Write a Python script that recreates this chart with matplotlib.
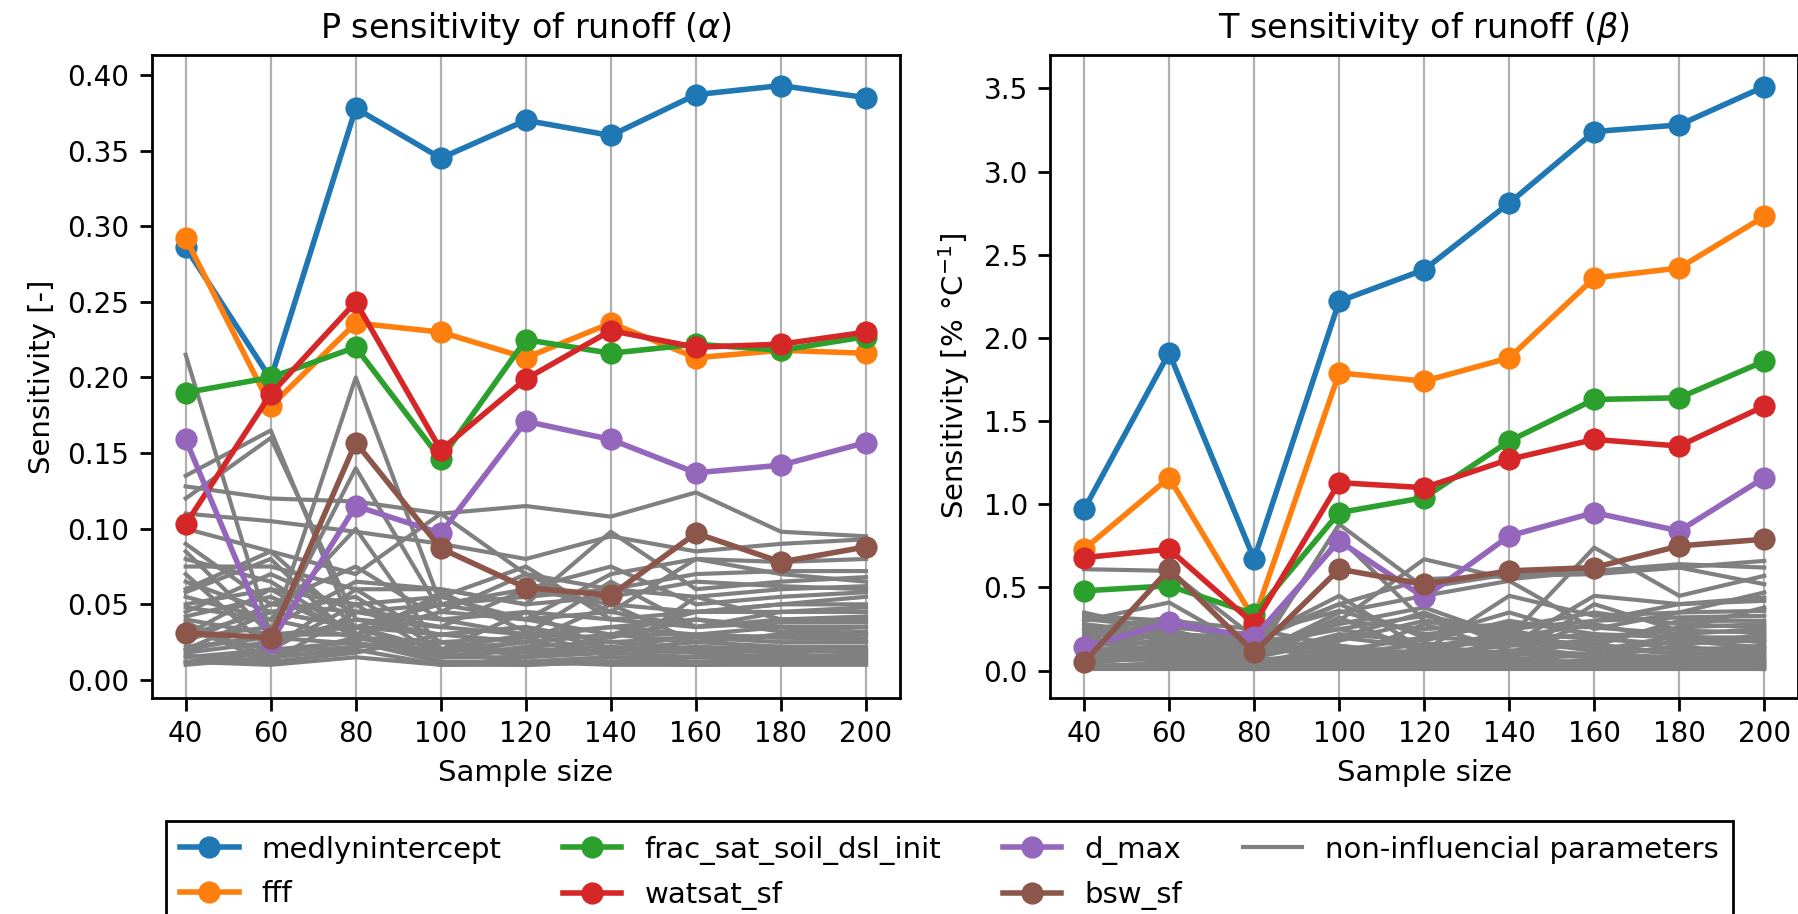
import numpy as np
import matplotlib
matplotlib.use('Agg')
import matplotlib.pyplot as plt

# sample sizes
samples = [40, 60, 80, 100, 120, 140, 160, 180, 200]

names = ['medlynintercept', 'fff', 'frac_sat_soil_dsl_init', 'watsat_sf', 'd_max', 'bsw_sf']
colors = ['tab:blue', 'tab:orange', 'tab:green', 'tab:red', 'tab:purple', 'tab:brown']

# P sensitivity (alpha), influential parameters
alpha_medlyn = [0.286, 0.199, 0.378, 0.345, 0.370, 0.360, 0.387, 0.393, 0.385]
alpha_fff = [0.292, 0.181, 0.236, 0.230, 0.213, 0.236, 0.213, 0.218, 0.216]
alpha_frac = [0.190, 0.200, 0.220, 0.146, 0.225, 0.216, 0.222, 0.218, 0.227]
alpha_watsat = [0.103, 0.189, 0.250, 0.152, 0.199, 0.231, 0.220, 0.222, 0.230]
alpha_dmax = [0.159, 0.025, 0.115, 0.097, 0.171, 0.159, 0.137, 0.142, 0.157]
alpha_bsw = [0.031, 0.028, 0.157, 0.087, 0.061, 0.056, 0.097, 0.078, 0.088]

# T sensitivity (beta), influential parameters
beta_medlyn = [0.97, 1.91, 0.67, 2.22, 2.41, 2.81, 3.24, 3.28, 3.51]
beta_fff = [0.73, 1.16, 0.31, 1.79, 1.74, 1.88, 2.36, 2.42, 2.73]
beta_frac = [0.48, 0.51, 0.34, 0.95, 1.04, 1.38, 1.63, 1.64, 1.86]
beta_watsat = [0.68, 0.73, 0.28, 1.13, 1.10, 1.27, 1.39, 1.35, 1.59]
beta_dmax = [0.14, 0.29, 0.20, 0.78, 0.44, 0.81, 0.95, 0.84, 1.16]
beta_bsw = [0.05, 0.61, 0.11, 0.61, 0.52, 0.60, 0.62, 0.75, 0.79]

# non-influencial parameters, P sensitivity
alpha_other = [
    [0.215, 0.030, 0.035, 0.020, 0.025, 0.020, 0.018, 0.020, 0.018],
    [0.135, 0.165, 0.030, 0.055, 0.040, 0.030, 0.030, 0.035, 0.030],
    [0.128, 0.120, 0.118, 0.110, 0.115, 0.108, 0.124, 0.098, 0.095],
    [0.040, 0.030, 0.200, 0.050, 0.060, 0.050, 0.045, 0.050, 0.055],
    [0.120, 0.160, 0.040, 0.030, 0.025, 0.030, 0.025, 0.030, 0.025],
    [0.085, 0.030, 0.140, 0.045, 0.070, 0.045, 0.080, 0.070, 0.065],
    [0.110, 0.105, 0.098, 0.090, 0.080, 0.095, 0.085, 0.090, 0.093],
    [0.060, 0.085, 0.070, 0.110, 0.070, 0.060, 0.055, 0.060, 0.062],
    [0.075, 0.075, 0.060, 0.060, 0.050, 0.098, 0.060, 0.065, 0.068],
    [0.050, 0.060, 0.050, 0.055, 0.075, 0.040, 0.045, 0.045, 0.048],
    [0.030, 0.045, 0.055, 0.020, 0.030, 0.065, 0.035, 0.040, 0.042],
    [0.020, 0.030, 0.030, 0.015, 0.020, 0.020, 0.030, 0.028, 0.030],
    [0.015, 0.020, 0.025, 0.012, 0.012, 0.015, 0.015, 0.015, 0.015],
    [0.010, 0.015, 0.020, 0.010, 0.010, 0.012, 0.012, 0.012, 0.012],
    [0.065, 0.045, 0.035, 0.030, 0.035, 0.025, 0.028, 0.025, 0.025],
    [0.045, 0.070, 0.045, 0.040, 0.030, 0.035, 0.040, 0.035, 0.035],
    [0.025, 0.050, 0.075, 0.040, 0.045, 0.020, 0.020, 0.022, 0.020],
    [0.035, 0.012, 0.045, 0.050, 0.055, 0.060, 0.070, 0.072, 0.072],
    [0.055, 0.040, 0.028, 0.025, 0.018, 0.018, 0.022, 0.020, 0.018],
    [0.018, 0.025, 0.040, 0.035, 0.060, 0.075, 0.050, 0.055, 0.058],
    [0.100, 0.085, 0.035, 0.015, 0.015, 0.018, 0.015, 0.016, 0.016],
    [0.070, 0.020, 0.050, 0.015, 0.022, 0.025, 0.020, 0.018, 0.020],
    [0.012, 0.018, 0.022, 0.025, 0.015, 0.030, 0.045, 0.050, 0.050],
    [0.080, 0.065, 0.030, 0.045, 0.040, 0.045, 0.035, 0.038, 0.038],
    [0.028, 0.035, 0.065, 0.060, 0.050, 0.055, 0.065, 0.062, 0.060],
    [0.042, 0.055, 0.030, 0.012, 0.010, 0.012, 0.010, 0.010, 0.010],
    [0.016, 0.012, 0.018, 0.030, 0.035, 0.020, 0.025, 0.030, 0.032],
    [0.032, 0.020, 0.060, 0.025, 0.028, 0.035, 0.030, 0.028, 0.027],
    [0.022, 0.028, 0.024, 0.020, 0.045, 0.040, 0.035, 0.045, 0.045],
    [0.090, 0.050, 0.045, 0.035, 0.030, 0.028, 0.040, 0.032, 0.035],
    [0.038, 0.015, 0.028, 0.018, 0.025, 0.050, 0.025, 0.022, 0.022],
    [0.012, 0.010, 0.015, 0.010, 0.012, 0.010, 0.010, 0.012, 0.011],
    [0.058, 0.080, 0.025, 0.058, 0.032, 0.015, 0.055, 0.040, 0.040],
    [0.048, 0.040, 0.100, 0.020, 0.018, 0.022, 0.018, 0.015, 0.014],
    [0.020, 0.045, 0.035, 0.050, 0.040, 0.070, 0.080, 0.078, 0.080],
    [0.030, 0.060, 0.028, 0.018, 0.012, 0.015, 0.012, 0.014, 0.013],
]

# non-influencial parameters, T sensitivity
beta_other = [
    [0.61, 0.60, 0.20, 0.40, 0.55, 0.57, 0.58, 0.62, 0.66],
    [0.10, 0.12, 0.08, 0.88, 0.50, 0.58, 0.60, 0.64, 0.62],
    [0.30, 0.41, 0.12, 0.30, 0.67, 0.55, 0.60, 0.62, 0.52],
    [0.25, 0.30, 0.15, 0.80, 0.30, 0.20, 0.74, 0.45, 0.57],
    [0.20, 0.25, 0.10, 0.35, 0.45, 0.54, 0.25, 0.35, 0.47],
    [0.15, 0.18, 0.10, 0.20, 0.35, 0.15, 0.45, 0.40, 0.42],
    [0.33, 0.30, 0.25, 0.15, 0.10, 0.25, 0.30, 0.40, 0.44],
    [0.05, 0.08, 0.05, 0.12, 0.20, 0.35, 0.20, 0.25, 0.38],
    [0.10, 0.20, 0.15, 0.25, 0.15, 0.10, 0.30, 0.32, 0.33],
    [0.28, 0.22, 0.20, 0.10, 0.12, 0.20, 0.15, 0.30, 0.30],
    [0.02, 0.05, 0.03, 0.05, 0.10, 0.15, 0.18, 0.26, 0.28],
    [0.18, 0.10, 0.06, 0.30, 0.25, 0.28, 0.26, 0.22, 0.25],
    [0.08, 0.12, 0.07, 0.08, 0.05, 0.10, 0.08, 0.15, 0.22],
    [0.22, 0.28, 0.18, 0.40, 0.20, 0.18, 0.22, 0.20, 0.20],
    [0.12, 0.15, 0.08, 0.18, 0.30, 0.25, 0.12, 0.18, 0.18],
    [0.03, 0.04, 0.02, 0.03, 0.04, 0.05, 0.06, 0.05, 0.05],
    [0.06, 0.07, 0.04, 0.10, 0.08, 0.06, 0.10, 0.08, 0.10],
    [0.01, 0.02, 0.01, 0.02, 0.02, 0.02, 0.02, 0.02, 0.02],
    [0.14, 0.10, 0.09, 0.22, 0.18, 0.30, 0.22, 0.12, 0.15],
    [0.26, 0.20, 0.12, 0.15, 0.08, 0.12, 0.16, 0.10, 0.12],
    [0.04, 0.10, 0.06, 0.06, 0.13, 0.08, 0.04, 0.06, 0.08],
    [0.16, 0.24, 0.14, 0.28, 0.38, 0.20, 0.28, 0.18, 0.14],
    [0.09, 0.06, 0.05, 0.14, 0.06, 0.04, 0.05, 0.04, 0.04],
    [0.02, 0.03, 0.02, 0.04, 0.03, 0.03, 0.03, 0.03, 0.03],
    [0.31, 0.26, 0.22, 0.36, 0.22, 0.26, 0.35, 0.28, 0.26],
    [0.07, 0.14, 0.11, 0.20, 0.14, 0.22, 0.14, 0.10, 0.07],
    [0.11, 0.05, 0.04, 0.07, 0.28, 0.12, 0.10, 0.14, 0.12],
    [0.19, 0.16, 0.13, 0.10, 0.16, 0.16, 0.08, 0.07, 0.06],
    [0.05, 0.18, 0.09, 0.32, 0.10, 0.07, 0.40, 0.24, 0.23],
    [0.24, 0.32, 0.16, 0.05, 0.04, 0.03, 0.02, 0.02, 0.01],
    [0.13, 0.08, 0.03, 0.02, 0.07, 0.18, 0.12, 0.21, 0.17],
    [0.35, 0.23, 0.17, 0.25, 0.33, 0.23, 0.19, 0.16, 0.19],
    [0.01, 0.01, 0.01, 0.01, 0.01, 0.01, 0.01, 0.01, 0.01],
    [0.17, 0.21, 0.19, 0.45, 0.12, 0.45, 0.33, 0.35, 0.36],
]

alpha_main = [alpha_medlyn, alpha_fff, alpha_frac, alpha_watsat, alpha_dmax, alpha_bsw]
beta_main = [beta_medlyn, beta_fff, beta_frac, beta_watsat, beta_dmax, beta_bsw]

fig = plt.figure(figsize=(8.995, 4.57), dpi=200)
ax1 = fig.add_axes([0.0843, 0.2367, 0.4160, 0.7031])
ax2 = fig.add_axes([0.5837, 0.2367, 0.4159, 0.7031])


def draw(ax, main, other, title, ylabel, ylim):
    for i, vals in enumerate(other):
        ax.plot(samples, vals, color='grey', lw=1.5,
                label='non-influencial parameters' if i == 0 else None)
    for vals, name, c in zip(main, names, colors):
        ax.plot(samples, vals, color=c, lw=2, marker='o', ms=7, label=name)
    ax.set_xticks(samples)
    ax.grid(axis='x', color='#b0b0b0', lw=0.8)
    ax.set_axisbelow(True)
    ax.set_ylim(ylim)
    ax.set_title(title, fontsize=12)
    ax.set_xlabel('Sample size', fontsize=10.5)
    ax.set_ylabel(ylabel, fontsize=10.5)
    ax.tick_params(labelsize=10, length=4.5, width=1)
    for s in ax.spines.values():
        s.set_linewidth(1)


draw(ax1, alpha_main, alpha_other, r'P sensitivity of runoff ($\alpha$)',
     'Sensitivity [-]', (-0.0117, 0.4132))
draw(ax2, beta_main, beta_other, r'T sensitivity of runoff ($\beta$)',
     r'Sensitivity [% $\degree$C$^{-1}$]', (-0.162, 3.70))

# legend order: colored series, then grey
handles, labels = ax1.get_legend_handles_labels()
handles = handles[1:] + handles[:1]
labels = labels[1:] + labels[:1]
leg = fig.legend(handles, labels, ncol=4, loc='upper center',
                 bbox_to_anchor=(0.5278, 0.1018), fontsize=10.5,
                 fancybox=False, edgecolor='black', framealpha=1,
                 columnspacing=2.1, handlelength=2, borderaxespad=0,
                 borderpad=0.5, labelspacing=0.58)
leg.get_frame().set_linewidth(1)

fig.savefig('out.png', dpi=200)
